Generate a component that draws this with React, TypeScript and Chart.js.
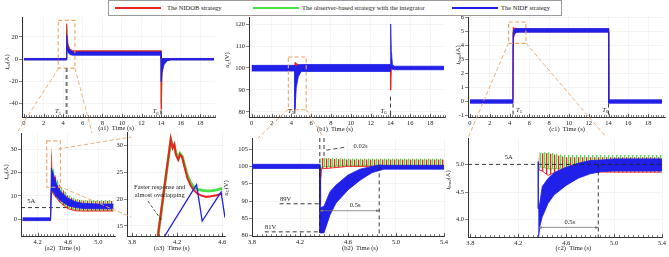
import React, { useEffect, useRef } from 'react';
import { Chart, registerables } from 'chart.js';

Chart.register(...registerables);

const SERIF = '"Liberation Serif", "Times New Roman", Times, serif';
const FS = 6.5;
const RED = 'rgb(238,32,32)';
const GREEN = 'rgb(70,225,70)';
const BLUE = 'rgb(32,32,232)';
const ORANGE = 'rgb(238,165,100)';
const INK = '#222';
const AXIS = '#333';
const GRID = 'rgba(0,0,0,0.07)';

// ---------- (a1) load-side current, full run ----------
const a1T = [0, 4.34, 4.36, 4.4, 4.5, 4.7, 5.0, 14.0, 14.02, 14.1, 14.3, 14.6, 15.0, 19.4];
const a1BlueLo = [-0.7, -0.7, 10, 9, 6, 4.2, 3.6, 3.6, -20, -12, -5, -1.5, -0.7, -0.7];
const a1BlueHi = [0.7, 0.7, 22, 17, 11, 8, 6.6, 6.6, 0, 0.5, 0.7, 0.7, 0.7, 0.7];
const a1RedLo = [-0.4, -0.4, 12, 10, 7, 5, 4.2, 4.2, -45, -8, -3, -1, -0.4, -0.4];
const a1RedHi = [0.4, 0.4, 32, 22, 13, 9, 7.6, 7.6, 0, 0, 0.4, 0.4, 0.4, 0.4];
const a1GreenLo = [-0.4, -0.4, 12, 10, 7, 5, 4.3, 4.3, -40, -7, -3, -1, -0.4, -0.4];
const a1GreenHi = [0.4, 0.4, 30, 21, 12.5, 8.8, 7.4, 7.4, 0, 0, 0.4, 0.4, 0.4, 0.4];
const a1XTicks = [0, 2, 4, 6, 8, 10, 12, 14, 16, 18];
const a1YTicks = [-40, -20, 0, 20];

// ---------- (b1) capacitor voltage, full run ----------
const b1T = [0, 4.34, 4.36, 4.4, 4.5, 4.7, 5.0, 13.99, 14.02, 14.08, 14.2, 14.4, 19.4];
const b1BlueLo = [98.6, 98.6, 81, 84, 91, 96, 98.4, 98.4, 100, 100, 99.4, 99.2, 99.2];
const b1BlueHi = [101.2, 101.2, 99, 99.5, 100.8, 101.4, 101.6, 101.6, 120, 108, 101.5, 100.8, 100.8];
const b1RedLo = [99.5, 99.5, 99.5, 99.8, 100, 100, 99.6, 99.6, 90, 99, 99.6, 99.7, 99.7];
const b1RedHi = [100.5, 100.5, 102.5, 102.5, 102, 101.6, 101, 101, 100.5, 100.5, 100.3, 100.3, 100.3];
const b1XTicks = [0, 2, 4, 6, 8, 10, 12, 14, 16, 18];
const b1YTicks = [80, 90, 100, 110, 120];

// ---------- (c1) load current, full run ----------
const c1T = [0, 4.34, 4.36, 4.4, 4.5, 4.7, 5.0, 13.99, 14.01, 19.4];
const c1BlueLo = [-0.12, -0.12, 4.0, 4.5, 4.8, 4.9, 4.92, 4.92, -0.12, -0.12];
const c1BlueHi = [0.12, 0.12, 4.9, 5.1, 5.15, 5.18, 5.18, 5.18, 0.12, 0.12];
const c1RedLo = [-0.08, -0.08, 4.95, 4.95, 4.95, 4.95, 4.95, 4.95, -0.08, -0.08];
const c1RedHi = [0.08, 0.08, 5.25, 5.22, 5.2, 5.2, 5.15, 5.15, 0.08, 0.08];
const c1XTicks = [0, 2, 4, 6, 8, 10, 12, 14, 16, 18];
const c1YTicks = [-1, 0, 1, 2, 3, 4, 5, 6];

// ---------- (a2) load-side current around T5 ----------
const a2T = [4.0, 4.37, 4.38, 4.4, 4.45, 4.5, 4.6, 4.7, 4.8, 5.0, 5.2];
const a2BlueLo = [-0.6, -0.6, 13, 12, 9.5, 8, 5.8, 5, 4.6, 4.5, 4.5];
const a2BlueHi = [0.6, 0.6, 22, 20, 15, 12, 9, 7.5, 6.8, 6.5, 6.5];
const a2RedLo = [-0.3, -0.3, 13, 11, 9, 7, 4.5, 3.6, 3.5, 3.5, 3.5];
const a2RedHi = [0.3, 0.3, 31, 22, 17, 14, 10, 8.5, 8, 7.8, 7.8];
const a2GreenLo = [-0.3, -0.3, 13, 11.5, 9.5, 7.5, 5, 4, 3.8, 3.8, 3.8];
const a2GreenHi = [0.3, 0.3, 29, 22.5, 17.5, 14.5, 10.5, 8.8, 8.3, 8.2, 8.2];
const a2XTicks = [4.2, 4.6, 5.0];
const a2YTicks = [0, 10, 20, 30];

// ---------- (a3) detail of the current peak ----------
const a3T = [4.03, 4.144, 4.16, 4.175, 4.19, 4.21, 4.225, 4.245, 4.265, 4.29, 4.32, 4.35, 4.38, 4.42, 4.46, 4.5, 4.55, 4.6];
const a3Red = [13.1, 31.2, 29.5, 30.2, 28.2, 27.3, 28.3, 27.8, 26, 24, 22.5, 21.6, 21, 20.6, 20.4, 20.5, 20.7, 21];
const a3Green = [13.1, 31, 29.8, 30, 28.5, 27.6, 28.5, 28, 26.4, 24.5, 23, 22.2, 21.8, 21.6, 21.5, 21.5, 21.7, 22];
const a3BlueT = [4.09, 4.372, 4.422, 4.589, 4.624];
const a3Blue = [13.1, 22.7, 15.9, 21.3, 16.5];
const a3XTicks = [3.8, 4.2, 4.6];
const a3YTicks = [15, 20, 25, 30];

// ---------- (b2) capacitor voltage around T5 ----------
const b2BlueT = [3.8, 4.365, 4.366, 4.4, 4.45, 4.5, 4.6, 4.7, 4.8, 4.86, 4.9, 5.4];
const b2BlueLo = [99.4, 99.4, 80.8, 80.8, 86, 89.4, 93.2, 96, 98.2, 98.8, 99.2, 99.2];
const b2BlueHi = [100.6, 100.6, 88, 88.5, 92.7, 94.6, 97.5, 99.2, 100, 100.4, 100.3, 100.3];
const b2RedT = [3.8, 4.365, 4.367, 4.372, 4.38, 4.45, 4.6, 5.4];
const b2RedLo = [99.7, 99.7, 89, 96, 99.3, 99.5, 100, 100];
const b2RedHi = [100.3, 100.3, 100, 102.2, 102.4, 102.2, 102, 102];
const b2GreenLo = [99.7, 99.7, 90, 97, 99.8, 100, 100.3, 100.3];
const b2GreenHi = [100.3, 100.3, 100, 102.4, 102.6, 102.4, 102.3, 102.3];
const b2XTicks = [3.8, 4.2, 4.6, 5.0, 5.4];
const b2YTicks = [80, 85, 90, 95, 100, 105];

// ---------- (c2) load current around T5 ----------
const c2BlueT = [4.366, 4.367, 4.38, 4.4, 4.45, 4.5, 4.6, 4.7, 4.8, 4.9, 5.0, 5.4];
const c2BlueLo = [3.6, 3.6, 3.88, 4.05, 4.3, 4.45, 4.62, 4.75, 4.83, 4.87, 4.88, 4.88];
const c2BlueHi = [5.05, 4.2, 4.3, 4.6, 4.75, 4.85, 4.95, 5.02, 5.07, 5.08, 5.1, 5.1];
const c2RedT = [4.367, 4.375, 4.4, 4.45, 4.5, 4.55, 4.6, 5.0, 5.4];
const c2RedLo = [4.95, 4.9, 4.88, 4.8, 4.85, 4.9, 4.87, 4.86, 4.86];
const c2RedHi = [5.0, 5.22, 5.2, 5.2, 5.18, 5.15, 5.13, 5.13, 5.13];
const c2GreenLo = [4.95, 4.95, 4.95, 4.92, 4.92, 4.93, 4.9, 4.9, 4.9];
const c2GreenHi = [5.0, 5.2, 5.22, 5.22, 5.2, 5.18, 5.17, 5.17, 5.17];
const c2XTicks = [3.8, 4.2, 4.6, 5.0, 5.4];
const c2YTicks = [4.0, 4.5, 5.0];

const LEGEND = [
  { label: 'The NIDOB strategy', color: RED },
  { label: 'The observer-based strategy with the integrator', color: GREEN },
  { label: 'The NIDF strategy', color: BLUE },
];

// dashed links from each zoom box to its enlarged view (page px)
const ZOOM_LINKS = [
  [58.7, 68.3, 18, 131], [75, 68.3, 92, 133],
  [288.3, 109.3, 258, 138], [306, 109.3, 322, 135],
  [508.3, 43.3, 468, 138], [526, 43.3, 606, 137],
  [58.3, 149, 131, 137], [58.3, 186, 131, 217],
];

type Part = { t: string; sub?: boolean; it?: boolean };

const fmt = (d: number) => (v: number) => v.toFixed(d);

// vertical hatch used to render the switching ripple of a band
function stripes(color: string, phase: number) {
  const c = document.createElement('canvas');
  c.width = 4;
  c.height = 2;
  const g = c.getContext('2d') as CanvasRenderingContext2D;
  g.fillStyle = color;
  g.fillRect(phase, 0, 1.3, 2);
  return g.createPattern(c, 'repeat');
}

function band(t: number[], lo: number[], hi: number[], color: string, order: number, width = 0.8) {
  const pts = (v: number[]) => t.map((x, i) => ({ x, y: v[i] }));
  return [
    { data: pts(lo), borderColor: color, borderWidth: width, pointRadius: 0, fill: false, order, tension: 0 },
    { data: pts(hi), borderColor: color, borderWidth: width, pointRadius: 0, fill: '-1', backgroundColor: color, order, tension: 0 },
  ];
}

function ripple(t: number[], lo: number[], hi: number[], color: string, order: number, phase: number) {
  const pts = (v: number[]) => t.map((x, i) => ({ x, y: v[i] }));
  return [
    { data: pts(lo), borderColor: color, borderWidth: 0.9, pointRadius: 0, fill: false, order, tension: 0 },
    { data: pts(hi), borderColor: 'rgba(0,0,0,0)', borderWidth: 0, pointRadius: 0, fill: '-1', backgroundColor: stripes(color, phase), order, tension: 0 },
  ];
}

function trace(t: number[], v: number[], color: string, order: number, width: number) {
  return { data: t.map((x, i) => ({ x, y: v[i] })), borderColor: color, borderWidth: width, pointRadius: 0, fill: false, order, tension: 0 };
}

function drawParts(ctx: CanvasRenderingContext2D, parts: Part[], x: number, y: number, align = 'center', angle = 0) {
  const fontFor = (p: Part) => `${p.it ? 'italic ' : ''}${p.sub ? FS * 0.72 : FS}px ${SERIF}`;
  let total = 0;
  const widths = parts.map((p) => {
    ctx.font = fontFor(p);
    const w = ctx.measureText(p.t).width;
    total += w;
    return w;
  });
  ctx.save();
  ctx.translate(x, y);
  ctx.rotate(angle);
  ctx.textBaseline = 'middle';
  ctx.textAlign = 'left';
  ctx.fillStyle = INK;
  let cx = align === 'center' ? -total / 2 : align === 'right' ? -total : 0;
  parts.forEach((p, i) => {
    ctx.font = fontFor(p);
    ctx.fillText(p.t, cx, p.sub ? FS * 0.3 : 0);
    cx += widths[i];
  });
  ctx.restore();
}

const T5: Part[] = [{ t: 'T', it: true }, { t: '5', sub: true }];
const T6: Part[] = [{ t: 'T', it: true }, { t: '6', sub: true }];
const I_CD: Part[] = [{ t: 'i', it: true }, { t: 'cd', sub: true, it: true }, { t: '(A)' }];
const U_C: Part[] = [{ t: 'u', it: true }, { t: 'C', sub: true, it: true }, { t: '(V)' }];
const I_LOAD: Part[] = [{ t: 'i', it: true }, { t: 'load', sub: true, it: true }, { t: '(A)' }];

function tools(chart: any) {
  const ctx: CanvasRenderingContext2D = chart.ctx;
  const xs = chart.scales.x;
  const ys = chart.scales.y;
  const X = (v: number) => xs.getPixelForValue(v);
  const Y = (v: number) => ys.getPixelForValue(v);
  const seg = (x1: number, y1: number, x2: number, y2: number, color = INK, width = 0.8, dash = [3, 2]) => {
    ctx.save();
    ctx.strokeStyle = color;
    ctx.lineWidth = width;
    ctx.setLineDash(dash);
    ctx.beginPath();
    ctx.moveTo(X(x1), Y(y1));
    ctx.lineTo(X(x2), Y(y2));
    ctx.stroke();
    ctx.restore();
  };
  const box = (x1: number, y1: number, x2: number, y2: number) => {
    ctx.save();
    ctx.strokeStyle = ORANGE;
    ctx.lineWidth = 1.1;
    ctx.setLineDash([4, 2.5]);
    ctx.strokeRect(X(x1), Y(y2), X(x2) - X(x1), Y(y1) - Y(y2));
    ctx.restore();
  };
  const text = (p: Part[] | string, x: number, y: number, align = 'center') =>
    drawParts(ctx, typeof p === 'string' ? [{ t: p }] : p, X(x), Y(y), align);
  const span = (x1: number, x2: number, y: number) => {
    const a = X(x1), b = X(x2), py = Y(y);
    ctx.save();
    ctx.strokeStyle = '#777';
    ctx.fillStyle = '#777';
    ctx.lineWidth = 0.8;
    ctx.beginPath();
    ctx.moveTo(a, py);
    ctx.lineTo(b, py);
    ctx.stroke();
    ctx.beginPath();
    ctx.moveTo(a, py); ctx.lineTo(a + 3, py - 1.5); ctx.lineTo(a + 3, py + 1.5); ctx.closePath();
    ctx.moveTo(b, py); ctx.lineTo(b - 3, py - 1.5); ctx.lineTo(b - 3, py + 1.5); ctx.closePath();
    ctx.fill();
    ctx.restore();
  };
  return { ctx, X, Y, seg, box, text, span };
}

type Spec = {
  id: string;
  area: number[];
  x: number[];
  y: number[];
  xTicks: number[];
  xFmt: (v: number) => string;
  yTicks: number[];
  yFmt: (v: number) => string;
  minor: number;
  datasets: any[];
  xTitle: string;
  xTitlePos: number[];
  yTitle?: Part[];
  yTitlePos?: number[];
  under?: (t: any) => void;
  over?: (t: any) => void;
};

const PANELS: Spec[] = [
  {
    id: 'a1', area: [22, 17, 215, 117], x: [-0.2, 19.5], y: [-52, 38],
    xTicks: a1XTicks, xFmt: fmt(0), yTicks: a1YTicks, yFmt: fmt(0), minor: 0.25,
    datasets: [
      ...band(a1T, a1BlueLo, a1BlueHi, BLUE, 0),
      ...band(a1T, a1RedLo, a1RedHi, RED, 1),
      ...band(a1T, a1GreenLo, a1GreenHi, GREEN, 2),
    ],
    xTitle: '(a1)  Time (s)', xTitlePos: [116, 128.5], yTitle: I_CD, yTitlePos: [7, 62],
    over: (k) => {
      k.box(3.5, -8, 5.2, 35);
      k.seg(4.35, -8, 4.35, -52, '#777', 2, [4, 3]);
      k.seg(14, -46, 14, -52, '#777', 2, [4, 3]);
      k.text(T5, 3.47, -47);
      k.text(T6, 13.44, -47);
    },
  },
  {
    id: 'b1', area: [249, 17, 445, 117], x: [-0.27, 19.5], y: [77.7, 123.2],
    xTicks: b1XTicks, xFmt: fmt(0), yTicks: b1YTicks, yFmt: fmt(0), minor: 0.25,
    datasets: [
      ...band(b1T, b1BlueLo, b1BlueHi, BLUE, 0),
      ...band(b1T, b1RedLo, b1RedHi, RED, 1),
    ],
    xTitle: '(b1)  Time (s)', xTitlePos: [335, 129], yTitle: U_C, yTitlePos: [227.5, 60],
    over: (k) => {
      k.box(3.7, 81, 5.5, 105);
      k.seg(4.35, 81, 4.35, 77.7, INK, 0.9, [4, 3]);
      k.seg(14, 87, 14, 77.7, INK, 0.9, [4, 3]);
      k.text(T5, 3.97, 80.3);
      k.text(T6, 13.3, 80.3);
    },
  },
  {
    id: 'c1', area: [468, 17, 665, 117], x: [-0.2, 19.7], y: [-1.1, 6],
    xTicks: c1XTicks, xFmt: fmt(0), yTicks: c1YTicks, yFmt: fmt(0), minor: 0.25,
    datasets: [
      ...band(c1T, c1BlueLo, c1BlueHi, BLUE, 0),
      ...band(c1T, c1RedLo, c1RedHi, RED, 1),
    ],
    xTitle: '(c1)  Time (s)', xTitlePos: [567, 129], yTitle: I_LOAD, yTitlePos: [458, 55],
    over: (k) => {
      k.box(3.9, 4.13, 5.65, 5.65);
      k.seg(4.35, -0.15, 4.35, -1.1, INK, 0.9, [4, 3]);
      k.seg(14, -0.15, 14, -1.1, INK, 0.9, [4, 3]);
      k.text(T5, 4.95, -0.62);
      k.text(T6, 13.67, -0.62);
    },
  },
  {
    id: 'a2', area: [21, 133, 115, 236], x: [3.98, 5.22], y: [-7.2, 37],
    xTicks: a2XTicks, xFmt: fmt(1), yTicks: a2YTicks, yFmt: fmt(0), minor: 0.04,
    datasets: [
      ...band(a2T, a2BlueLo, a2BlueHi, BLUE, 0),
      ...ripple(a2T, a2RedLo, a2RedHi, RED, 1, 0),
      ...ripple(a2T, a2GreenLo, a2GreenHi, GREEN, 2, 2),
    ],
    xTitle: '(a2)  Time (s)', xTitlePos: [62.5, 248.3], yTitle: I_CD, yTitlePos: [6, 172],
    under: (k) => {
      k.seg(3.98, 5, 4.62, 5, INK, 0.9, [4, 3]);
    },
    over: (k) => {
      k.box(4.32, 13.7, 4.5, 33.6);
      k.text('5A', 4.116, 7.6);
    },
  },
  {
    id: 'a3', area: [127, 132, 225, 236], x: [3.756, 4.624], y: [13.1, 32.5],
    xTicks: a3XTicks, xFmt: fmt(1), yTicks: a3YTicks, yFmt: fmt(0), minor: 0.04,
    datasets: [
      trace(a3BlueT, a3Blue, BLUE, 0, 1.3),
      trace(a3T, a3Red, RED, 1, 2.0),
      trace(a3T, a3Green, GREEN, 2, 2.8),
    ],
    xTitle: '(a3)  Time (s)', xTitlePos: [171.7, 248.3],
    over: (k) => {
      k.text('Faster response and', 4.046, 22.25);
      k.text('almost overlapping', 4.046, 20.6);
      k.seg(3.942, 19.6, 4.061, 16.06, INK, 0.8, [3, 2]);
    },
  },
  {
    id: 'b2', area: [252, 138, 444, 236], x: [3.8, 5.4], y: [79.9, 108.2],
    xTicks: b2XTicks, xFmt: fmt(1), yTicks: b2YTicks, yFmt: fmt(0), minor: 0.04,
    datasets: [
      ...band(b2BlueT, b2BlueLo, b2BlueHi, BLUE, 0),
      ...ripple(b2RedT, b2RedLo, b2RedHi, RED, 1, 0),
      ...ripple(b2RedT, b2GreenLo, b2GreenHi, GREEN, 2, 2),
    ],
    xTitle: '(b2)  Time (s)', xTitlePos: [360, 248.3], yTitle: U_C, yTitlePos: [226, 188],
    over: (k) => {
      k.seg(4.365, 108.2, 4.365, 79.9, INK, 0.9, [4, 3]);
      k.seg(4.4, 108.2, 4.4, 103, INK, 0.9, [4, 3]);
      k.seg(4.42, 104.7, 4.587, 105.6, INK, 0.8, [4, 3]);
      k.text('0.02s', 4.704, 105.9);
      k.seg(4.03, 89.2, 4.365, 89.2, INK, 0.9, [4, 3]);
      k.text('89V', 4.08, 90.4);
      k.seg(3.906, 81.1, 4.365, 81.1, INK, 0.9, [4, 3]);
      k.text('81V', 3.956, 82.3);
      k.span(4.365, 4.86, 87.2);
      k.text('0.5s', 4.66, 88.7);
      k.seg(4.86, 100, 4.86, 79.9, INK, 0.9, [4, 3]);
    },
  },
  {
    id: 'c2', area: [468, 138, 662, 237], x: [3.78, 5.4], y: [3.686, 5.478],
    xTicks: c2XTicks, xFmt: fmt(1), yTicks: c2YTicks, yFmt: fmt(1), minor: 0.04,
    datasets: [
      ...band(c2BlueT, c2BlueLo, c2BlueHi, BLUE, 0),
      ...ripple(c2RedT, c2RedLo, c2RedHi, RED, 1, 0),
      ...ripple(c2RedT, c2GreenLo, c2GreenHi, GREEN, 2, 2),
    ],
    xTitle: '(c2)  Time (s)', xTitlePos: [573.3, 248.3], yTitle: I_LOAD, yTitlePos: [448, 180],
    over: (k) => {
      k.seg(3.78, 5.0, 5.4, 5.0, INK, 0.9, [4, 3]);
      k.text('5A', 4.12, 5.125);
      k.seg(4.868, 5.0, 4.868, 3.686, INK, 0.9, [4, 3]);
      k.span(4.37, 4.868, 3.86);
      k.text('0.5s', 4.63, 3.96);
    },
  },
];

const PAD_L = 30;
const PAD_T = 6;
const PAD_R = 8;
const PAD_B = 22;

function Panel({ spec }: { spec: Spec }) {
  const ref = useRef<HTMLCanvasElement>(null);
  const [l, t, r, b] = spec.area;
  const left = l - PAD_L;
  const top = t - PAD_T;
  const width = r - l + PAD_L + PAD_R;
  const height = b - t + PAD_T + PAD_B;

  useEffect(() => {
    const canvas = ref.current;
    if (!canvas) return;
    const tickFont = { family: SERIF, size: FS };
    const deco = {
      id: 'deco',
      beforeDatasetsDraw(chart: any) {
        if (spec.under) spec.under(tools(chart));
      },
      afterDatasetsDraw(chart: any) {
        const ctx: CanvasRenderingContext2D = chart.ctx;
        const xs = chart.scales.x;
        const bottom = chart.chartArea.bottom;
        ctx.save();
        ctx.strokeStyle = AXIS;
        ctx.lineWidth = 0.7;
        const n0 = Math.ceil(xs.min / spec.minor - 1e-6);
        const n1 = Math.floor(xs.max / spec.minor + 1e-6);
        ctx.beginPath();
        for (let n = n0; n <= n1; n++) {
          const px = Math.round(xs.getPixelForValue(n * spec.minor)) + 0.5;
          ctx.moveTo(px, bottom);
          ctx.lineTo(px, bottom - 1.8);
        }
        spec.xTicks.forEach((v) => {
          const px = Math.round(xs.getPixelForValue(v)) + 0.5;
          ctx.moveTo(px, bottom);
          ctx.lineTo(px, bottom - 3.2);
        });
        ctx.stroke();
        ctx.restore();
        if (spec.over) spec.over(tools(chart));
      },
      afterDraw(chart: any) {
        const ctx: CanvasRenderingContext2D = chart.ctx;
        drawParts(ctx, [{ t: spec.xTitle }], spec.xTitlePos[0] - left, spec.xTitlePos[1] - top);
        if (spec.yTitle && spec.yTitlePos) {
          drawParts(ctx, spec.yTitle, spec.yTitlePos[0] - left, spec.yTitlePos[1] - top, 'center', -Math.PI / 2);
        }
      },
    };
    const chart = new Chart(canvas, {
      type: 'line',
      data: { datasets: spec.datasets },
      options: {
        animation: false,
        responsive: false,
        devicePixelRatio: 1,
        events: [],
        layout: { padding: { left: 0, top: PAD_T, right: PAD_R, bottom: 0 } },
        elements: { point: { radius: 0 }, line: { tension: 0 } },
        plugins: {
          legend: { display: false },
          tooltip: { enabled: false },
          filler: { drawTime: 'beforeDatasetDraw' },
        },
        scales: {
          x: {
            type: 'linear',
            min: spec.x[0],
            max: spec.x[1],
            afterBuildTicks: (s: any) => { s.ticks = spec.xTicks.map((v) => ({ value: v })); },
            afterFit: (s: any) => { s.height = PAD_B; },
            ticks: { callback: (v: any) => spec.xFmt(Number(v)), font: tickFont, color: INK, padding: 2, maxRotation: 0, autoSkip: false },
            grid: { color: GRID, lineWidth: 0.6, drawTicks: false },
            border: { color: AXIS, width: 1 },
          },
          y: {
            type: 'linear',
            min: spec.y[0],
            max: spec.y[1],
            afterBuildTicks: (s: any) => { s.ticks = spec.yTicks.map((v) => ({ value: v })); },
            afterFit: (s: any) => { s.width = PAD_L; },
            ticks: { callback: (v: any) => spec.yFmt(Number(v)), font: tickFont, color: INK, padding: 1, autoSkip: false },
            grid: { color: GRID, lineWidth: 0.6, drawTicks: true, tickLength: 3, tickColor: AXIS },
            border: { color: AXIS, width: 1 },
          },
        },
      } as any,
      plugins: [deco],
    } as any);
    return () => chart.destroy();
  }, [spec]);

  return (
    <canvas
      ref={ref}
      width={width}
      height={height}
      style={{ position: 'absolute', left, top, width, height }}
    />
  );
}

function Legend() {
  const lines = [115, 253, 452];
  const texts = [167, 302, 501];
  return (
    <div
      style={{
        position: 'absolute', left: 108, top: 0, width: 452, height: 14,
        border: '1px solid #9a9a9a', background: '#fff', fontFamily: SERIF, fontSize: FS, color: INK,
      }}
    >
      {LEGEND.map((e, i) => (
        <React.Fragment key={e.label}>
          <div style={{ position: 'absolute', left: lines[i] - 109, top: 6, width: 46, height: 2, background: e.color }} />
          <div style={{ position: 'absolute', left: texts[i] - 109, top: 3, lineHeight: '8px', whiteSpace: 'nowrap' }}>{e.label}</div>
        </React.Fragment>
      ))}
    </div>
  );
}

export default function App() {
  useEffect(() => {
    document.body.style.margin = '0';
  }, []);
  return (
    <div style={{ position: 'relative', width: 669, height: 257, overflow: 'hidden', background: '#fff' }}>
      {PANELS.map((p) => (
        <Panel key={p.id} spec={p} />
      ))}
      <svg width={669} height={257} style={{ position: 'absolute', left: 0, top: 0, pointerEvents: 'none' }}>
        {ZOOM_LINKS.map((s, i) => (
          <line key={i} x1={s[0]} y1={s[1]} x2={s[2]} y2={s[3]} stroke={ORANGE} strokeWidth={0.9} strokeDasharray="4 2.5" />
        ))}
      </svg>
      <Legend />
    </div>
  );
}
